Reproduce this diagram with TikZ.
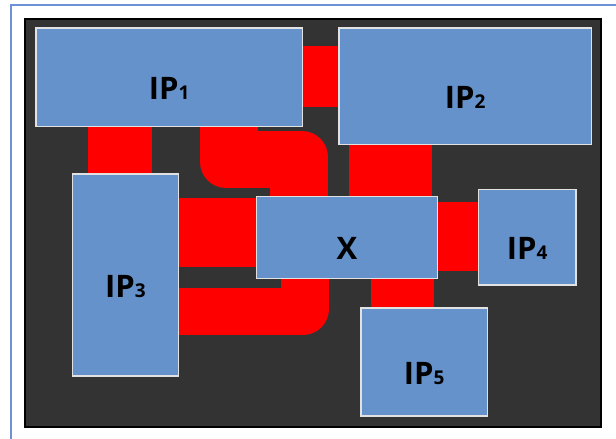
\documentclass[tikz,border=0pt]{standalone}
\usepackage{fontspec}
\setmainfont{Open Sans}
\definecolor{boxblue}{HTML}{6592CB}
\definecolor{boxedge}{HTML}{E2E2E2}
\definecolor{panel}{HTML}{333333}
\definecolor{framecol}{HTML}{6D92D6}
\definecolor{wire}{HTML}{FF0000}
\tikzset{
  ipbox/.style={draw=boxedge, fill=boxblue, line width=1.6pt, inner sep=0pt},
  iplabel/.style={anchor=base, inner sep=0pt, font=\fontsize{31}{31}\selectfont\bfseries},
  wirefill/.style={fill=wire},
}
\newcommand{\ipdigit}[1]{{\fontsize{19}{19}\selectfont #1}}
\begin{document}
\begin{tikzpicture}[x=1pt, y=-1pt]
  \useasboundingbox (0,0) rectangle (616,439);
  \clip (0,0) rectangle (616,439);
  % page background and frame
  \fill[white] (0,0) rectangle (616,439);
  \draw[framecol, line width=1.2pt] (11,5) rectangle (660,480);
  % dark die area
  \draw[black, fill=panel, line width=1.6pt] (25,19) rectangle (601,427);

  % interconnect wiring
  \fill[wirefill] (302,46) rectangle (339,107);
  \fill[wirefill] (88,120) rectangle (152,180);
  % S-shaped bus from IP1 to X (rounded bottom-left and top-right bends)
  \fill[wirefill] (226,100) rectangle (258,188);
  \fill[wirefill] (200,100) rectangle (226,162);
  \fill[wirefill] (226,162) circle[radius=26];
  \fill[wirefill] (240,131) rectangle (302,188);
  \fill[wirefill] (270,131) rectangle (302,240);
  \fill[wirefill] (302,157) rectangle (328,240);
  \fill[wirefill] (302,157) circle[radius=26];
  % IP3 to X
  \fill[wirefill] (170,198) rectangle (262,267);
  % L-shaped bus from IP3 to X (rounded bottom-right bend)
  \fill[wirefill] (150,288) rectangle (303,335);
  \fill[wirefill] (281,260) rectangle (329,309);
  \fill[wirefill] (303,309) circle[radius=26];
  % IP2 to X, X to IP4, X to IP5
  \fill[wirefill] (349,140) rectangle (432,200);
  \fill[wirefill] (430,202) rectangle (482,271);
  \fill[wirefill] (371,274) rectangle (434,312);

  % IP blocks
  \node[ipbox, minimum width=266.5pt, minimum height=98.5pt]  (ip1) at (169.25,77.25) {};
  \node[ipbox, minimum width=252.5pt, minimum height=116.5pt] (ip2) at (465.25,86.25) {};
  \node[ipbox, minimum width=106pt,   minimum height=202pt]   (ip3) at (125.5,275) {};
  \node[ipbox, minimum width=181pt,   minimum height=82pt]    (x)   at (347,237.5) {};
  \node[ipbox, minimum width=97.5pt,  minimum height=95.5pt]  (ip4) at (527.25,237.25) {};
  \node[ipbox, minimum width=126.5pt, minimum height=108pt]   (ip5) at (424.25,362) {};

  % block names
  \node[iplabel] (l1) at ([yshift=-22pt]ip1.center) {IP\ipdigit{1}};
  \node[iplabel] (l2) at ([yshift=-22pt]ip2.center) {IP\ipdigit{2}};
  \node[iplabel] (l3) at ([yshift=-22pt]ip3.center) {IP\ipdigit{3}};
  \node[iplabel] (lx) at ([yshift=-22pt]x.center)   {X};
  \node[iplabel] (l4) at ([yshift=-22pt]ip4.center) {IP\ipdigit{4}};
  \node[iplabel] (l5) at ([yshift=-22pt]ip5.center) {IP\ipdigit{5}};
\end{tikzpicture}
\end{document}
